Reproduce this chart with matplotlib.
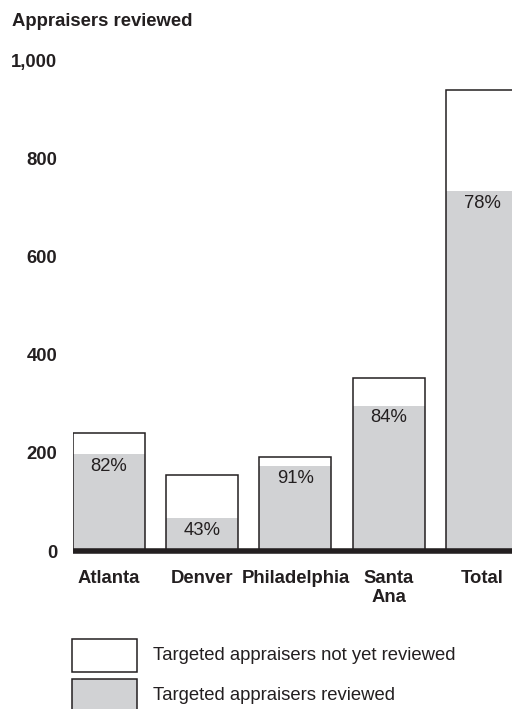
import matplotlib
matplotlib.use('Agg')
import matplotlib.pyplot as plt
from matplotlib.patches import Rectangle
import numpy as np

plt.rcParams['font.family'] = ['Liberation Sans', 'DejaVu Sans']

# data
cities = ['Atlanta', 'Denver', 'Philadelphia', 'Santa\nAna']
targeted = [240, 155, 191, 352]   # all targeted appraisers
reviewed = [197, 67, 173, 296]    # already reviewed
pct_labels = ['82%', '43%', '91%', '84%', '78%']
yticks = [0, 200, 400, 600, 800, 1000]
ytick_labels = ['0', '200', '400', '600', '800', '1,000']

categories = cities + ['Total']
tot_all = targeted + [sum(targeted)]
rev_all = reviewed + [sum(reviewed)]

dark = '#231f20'
grey = '#d1d2d4'
fs = 13.3

W, H = 512, 709
fig = plt.figure(figsize=(W / 100, H / 100), dpi=100)
ax = fig.add_axes([73 / W, (H - 551) / H, 1 - 73 / W, (551 - 60) / H])

x = np.arange(len(categories))
bw = 0.772
ax.bar(x, tot_all, width=bw, color='white', linewidth=0)
ax.bar(x, rev_all, width=bw, color=grey, linewidth=0)
ax.bar(x, tot_all, width=bw, fill=False, edgecolor=dark, linewidth=1.1)

for xi, r, lab in zip(x, rev_all, pct_labels):
    ax.annotate(lab, xy=(xi, r), xytext=(0, -8.6), textcoords='offset points',
                ha='center', va='center', fontsize=fs, color=dark)

ax.axhline(0, color=dark, linewidth=4, clip_on=False, zorder=5,
           solid_capstyle='butt')

ax.set_xlim(-bw / 2, 4.322)
ax.set_ylim(0, 1000)
ax.set_yticks(yticks)
ax.set_yticklabels(ytick_labels, fontsize=fs, fontweight='bold', color=dark)
ax.set_xticks(x)
ax.set_xticklabels(categories, fontsize=fs, fontweight='bold', color=dark,
                   linespacing=1.15)
ax.tick_params(axis='y', length=0, pad=11.5)
ax.tick_params(axis='x', length=0, pad=13.5)
for s in ax.spines.values():
    s.set_visible(False)

fig.text(12 / W, 1 - 22 / H, 'Appraisers reviewed', fontsize=fs,
         fontweight='bold', color=dark, ha='left', va='center')

# legend drawn by hand
legend_items = [('white', 'Targeted appraisers not yet reviewed'),
                (grey, 'Targeted appraisers reviewed')]
for i, (fc, txt) in enumerate(legend_items):
    top = 639 + i * 40
    fig.patches.append(Rectangle((72 / W, 1 - (top + 33) / H), 65 / W, 33 / H,
                                 transform=fig.transFigure, facecolor=fc,
                                 edgecolor=dark, linewidth=1.1))
    fig.text(153 / W, 1 - (top + 16) / H, txt, fontsize=fs, color=dark,
             ha='left', va='center')

fig.savefig('out.png', dpi=100)
